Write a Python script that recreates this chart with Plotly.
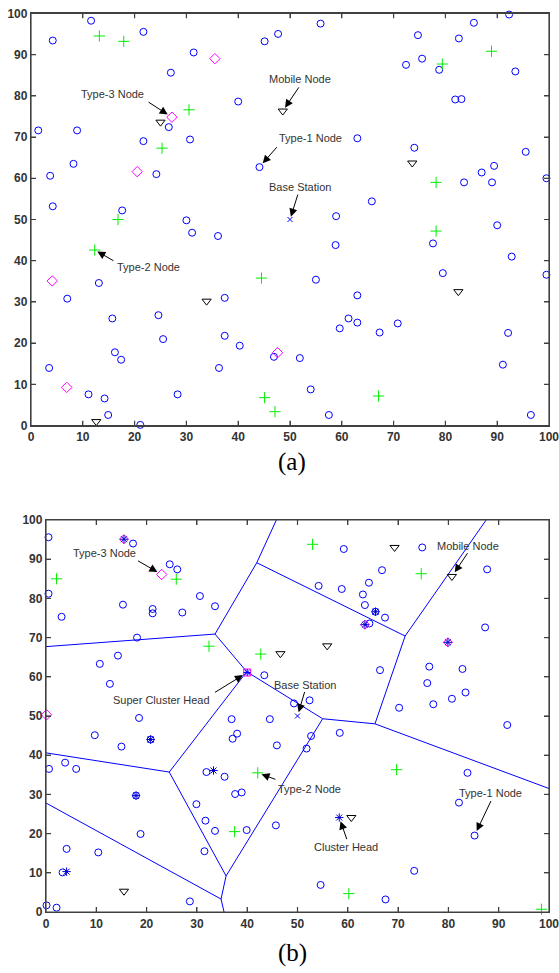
import plotly.graph_objects as go

# ---------------- Panel (a) data ----------------
a_t1_x = [11.6, 4.2, 21.7, 31.4, 27.0, 40.0, 1.4, 8.9, 21.7, 26.6, 30.7, 8.2, 3.7, 24.2, 44.1, 4.2, 17.6, 30.0, 45.1, 47.7,
          55.9, 74.7, 82.6, 85.5, 92.3, 72.4, 75.5, 78.8, 93.5, 81.9, 83.1, 63.0, 74.0, 95.5, 89.4, 87.0, 83.6, 89.0, 99.5, 65.8, 58.9, 90.0,
          31.1, 36.1, 13.1, 7.0, 37.4, 15.7, 24.6, 25.5, 37.4, 40.3, 16.2, 17.4, 3.5, 36.3, 46.9, 11.1, 14.2, 14.9, 21.1, 28.3,
          58.8, 77.6, 92.8, 99.5, 79.5, 55.0, 63.0, 61.3, 63.0, 59.6, 67.3, 70.8, 92.1, 51.9, 91.1, 54.0, 57.5, 96.5]
a_t1_y = [98.2, 93.4, 95.5, 90.5, 85.6, 78.6, 71.6, 71.6, 69.0, 72.4, 69.4, 63.5, 60.6, 61.0, 62.7, 53.2, 52.2, 49.8, 93.2, 95.0,
          97.5, 94.7, 93.9, 97.7, 99.7, 87.5, 89.0, 86.3, 85.9, 79.1, 79.2, 69.7, 67.4, 66.4, 63.0, 61.4, 59.0, 59.0, 60.0, 54.4, 50.8, 48.6,
          46.8, 46.0, 34.6, 30.8, 31.0, 26.0, 26.8, 21.0, 21.8, 19.4, 17.8, 16.0, 14.0, 14.0, 16.7, 7.6, 6.6, 2.6, 0.2, 7.6,
          43.8, 44.2, 41.0, 36.6, 37.0, 35.4, 31.6, 26.0, 25.0, 23.6, 22.6, 24.8, 22.5, 16.4, 14.8, 8.8, 2.6, 2.6]
a_t2_x = [13.2, 17.9, 30.5, 25.3, 16.8, 88.9, 79.4, 78.2, 12.3, 44.5, 45.1, 47.1, 78.2, 67.1]
a_t2_y = [94.5, 93.2, 76.6, 67.3, 50.0, 90.8, 87.7, 59.0, 42.6, 35.8, 6.8, 3.4, 47.2, 7.2]
a_t3_x = [35.5, 27.2, 20.5, 4.1, 6.9, 47.6]
a_t3_y = [89.0, 74.8, 61.6, 35.1, 9.3, 17.7]
a_mob_x = [25.0, 48.6, 73.6, 33.9, 12.6, 82.5]
a_mob_y = [73.6, 76.3, 63.7, 30.2, 1.0, 32.5]
bs_x = [50.0]
bs_y = [50.0]

# ---------------- Panel (b) data ----------------
b_t1_x = [0.5, 17.3, 24.6, 26.1, 0.5, 3.1, 15.3, 21.2, 21.2, 27.1, 30.6, 33.6, 18.1, 14.3, 10.7, 12.7, 43.4,
          59.2, 74.8, 66.8, 87.7, 54.2, 58.8, 64.2, 63.0, 63.4, 67.4, 64.3, 87.3, 66.4, 76.2, 82.8, 75.8, 83.4, 80.7, 77.0, 70.2, 52.4, 49.3,
          18.5, 36.9, 44.5, 9.7, 15.0, 37.1, 38.0, 45.9, 0.6, 3.8, 6.0, 31.9, 35.5, 37.6, 38.9, 29.9, 31.7, 33.6, 39.9, 45.7, 18.8,
          4.1, 10.4, 31.5, 3.3, 0.1, 2.1, 28.6,
          91.7, 58.4, 52.7, 51.8, 83.8, 82.1, 85.2, 73.2, 54.6, 67.5]
b_t1_y = [95.6, 94.0, 88.7, 87.4, 81.2, 75.3, 78.4, 77.3, 76.2, 76.4, 80.6, 78.0, 70.0, 65.4, 63.3, 58.2, 60.4,
          92.6, 93.0, 87.2, 87.4, 83.2, 82.4, 84.0, 81.0, 78.3, 75.1, 73.6, 72.6, 61.7, 62.6, 62.0, 58.4, 56.0, 54.4, 53.0, 52.1, 54.0, 53.2,
          49.5, 49.2, 49.2, 45.1, 42.2, 44.2, 45.5, 42.5, 36.5, 38.1, 36.5, 35.7, 34.5, 30.1, 30.5, 27.5, 23.3, 20.7, 20.9, 22.1, 19.9,
          16.1, 15.2, 15.5, 10.1, 1.7, 1.1, 2.7,
          47.7, 45.7, 44.9, 41.7, 35.5, 27.9, 19.5, 10.5, 6.9, 3.2]
b_t2_x = [2.1, 25.9, 32.4, 42.7, 53.0, 74.6, 42.1, 37.5, 69.7, 60.2, 98.5]
b_t2_y = [85.0, 84.9, 67.8, 65.8, 93.8, 86.3, 35.5, 20.5, 36.3, 4.7, 0.7]
b_t3_x = [23.0, 0.1]
b_t3_y = [86.1, 50.3]
b_ch_t3_x = [15.5, 63.4, 79.9]
b_ch_t3_y = [95.1, 73.3, 68.8]
b_ch_t1_x = [20.8, 17.9, 65.5]
b_ch_t1_y = [44.0, 29.7, 76.6]
b_ch_x = [33.3, 4.1, 58.3]
b_ch_y = [36.1, 10.3, 24.1]
b_sch_x = [40.0]
b_sch_y = [61.1]
b_mob_x = [46.6, 69.3, 80.7, 55.9, 15.5, 60.7]
b_mob_y = [65.9, 93.0, 85.6, 67.9, 5.3, 24.1]

# Voronoi edges (start, end) in data units
vor_x0 = [0.0, 33.6, 41.9, 41.9, 71.4, 71.4, 65.4, 65.4, 55.0, 33.6, 39.9, 24.5, 24.5, 35.8, 34.8, 34.8, 35.8]
vor_y0 = [67.7, 70.9, 89.1, 89.1, 70.4, 70.4, 48.0, 48.0, 49.3, 70.9, 61.3, 35.7, 35.7, 9.2, 3.3, 3.3, 9.2]
vor_x1 = [33.6, 41.9, 45.8, 71.4, 87.5, 65.4, 100.0, 55.0, 39.9, 39.9, 24.5, 0.0, 35.8, 34.8, 35.4, 0.0, 55.0]
vor_y1 = [70.9, 89.1, 100.0, 70.4, 100.0, 48.0, 31.5, 49.3, 61.3, 61.3, 35.7, 40.6, 9.2, 3.3, 0.0, 27.8, 49.3]

ticks = [0, 10, 20, 30, 40, 50, 60, 70, 80, 90, 100]
tick_text = [str(t) for t in ticks]

W, H = 559, 973
BLUE = "#0000ff"
GREEN = "#00ee00"
MAG = "#ff00ff"
AXC = "#404040"

# panel geometry in pixels (left, right, top, bottom)
PANELS = {"": (31, 549, 13.3, 425.7), "2": (46, 549, 520, 912)}

fig = go.Figure()


def mk(x, y, sym, color, size, xa, ya, lw=1.0):
    fig.add_trace(go.Scatter(x=x, y=y, mode="markers", xaxis=xa, yaxis=ya,
                             cliponaxis=False, showlegend=False, hoverinfo="skip",
                             marker=dict(symbol=sym, size=size, color=color,
                                         line=dict(color=color, width=lw))))


# panel (a)
mk(a_t1_x, a_t1_y, "circle-open", BLUE, 7, "x", "y")
mk(a_t2_x, a_t2_y, "cross-thin-open", GREEN, 8, "x", "y")
mk(a_t3_x, a_t3_y, "diamond-open", MAG, 8, "x", "y")
mk(a_mob_x, a_mob_y, "triangle-down-open", "#000000", 8, "x", "y")
mk(bs_x, bs_y, "x-thin-open", BLUE, 5, "x", "y")

# panel (b) voronoi
vx, vy = [], []
for i in range(len(vor_x0)):
    vx += [vor_x0[i], vor_x1[i], None]
    vy += [vor_y0[i], vor_y1[i], None]
fig.add_trace(go.Scatter(x=vx, y=vy, mode="lines", xaxis="x2", yaxis="y2",
                         line=dict(color=BLUE, width=1), showlegend=False, hoverinfo="skip"))

mk(b_t1_x, b_t1_y, "circle-open", BLUE, 7, "x2", "y2")
mk(b_ch_t1_x, b_ch_t1_y, "circle-open", BLUE, 7, "x2", "y2")
mk(b_t2_x, b_t2_y, "cross-thin-open", GREEN, 8, "x2", "y2")
mk(b_t3_x, b_t3_y, "diamond-open", MAG, 8, "x2", "y2")
mk(b_ch_t3_x, b_ch_t3_y, "diamond-open", MAG, 7, "x2", "y2")
mk(b_sch_x, b_sch_y, "square-open", MAG, 7, "x2", "y2")
mk(b_ch_t1_x + b_ch_t3_x + b_ch_x, b_ch_t1_y + b_ch_t3_y + b_ch_y, "asterisk-open", "#0000cc", 7, "x2", "y2")
mk(b_sch_x, b_sch_y, "asterisk-open", BLUE, 6, "x2", "y2")
mk(b_mob_x, b_mob_y, "triangle-down-open", "#000000", 8, "x2", "y2")
mk(bs_x, bs_y, "x-thin-open", BLUE, 5, "x2", "y2")

axis_common = dict(range=[0, 100], tickmode="array", tickvals=ticks, ticktext=tick_text,
                   ticks="inside", ticklen=5, tickwidth=1.3, tickcolor=AXC, showline=True,
                   linecolor=AXC, linewidth=1.3, mirror="allticks", showgrid=False,
                   zeroline=False, fixedrange=True, automargin=False, layer="above traces",
                   ticklabeloverflow="allow",
                   tickfont=dict(family="Liberation Sans, Arial", size=12, color="#333333", weight="bold"))

fig.update_layout(
    width=W, height=H, margin=dict(l=0, r=0, t=0, b=0, autoexpand=False),
    paper_bgcolor="white", plot_bgcolor="white",
    xaxis=dict(axis_common, domain=[PANELS[""][0] / W, PANELS[""][1] / W], anchor="y"),
    yaxis=dict(axis_common, domain=[1 - PANELS[""][3] / H, 1 - PANELS[""][2] / H], anchor="x"),
    xaxis2=dict(axis_common, domain=[PANELS["2"][0] / W, PANELS["2"][1] / W], anchor="y2"),
    yaxis2=dict(axis_common, domain=[1 - PANELS["2"][3] / H, 1 - PANELS["2"][2] / H], anchor="x2"),
)

# box and tick marks around each panel
TL = 5.0
for s, (l, r, t, b) in PANELS.items():
    fw, fh = TL / (r - l), TL / (b - t)
    fig.add_shape(type="rect", xref="x" + s + " domain", yref="y" + s + " domain",
                  x0=0, x1=1, y0=0, y1=1, line=dict(color=AXC, width=1.2), layer="above")
    for tv in ticks[1:-1]:
        for y0, y1 in [(0, fh), (1, 1 - fh)]:
            fig.add_shape(type="line", xref="x" + s, yref="y" + s + " domain",
                          x0=tv, x1=tv, y0=y0, y1=y1, line=dict(color=AXC, width=1.2), layer="above")
        for x0, x1 in [(0, fw), (1, 1 - fw)]:
            fig.add_shape(type="line", xref="x" + s + " domain", yref="y" + s,
                          x0=x0, x1=x1, y0=tv, y1=tv, line=dict(color=AXC, width=1.2), layer="above")

# labels: (text, text_x, text_y, tail_x, tail_y, head_x, head_y, standoff, axis suffix)
labels = [
    ("Type-3 Node", 15.8, 80.4, 22.4, 78.7, 27.2, 74.8, 5, ""),
    ("Mobile Node", 51.9, 84.1, 51.9, 82.4, 48.6, 76.3, 4, ""),
    ("Type-1 Node", 53.9, 69.7, 47.7, 67.9, 44.1, 62.7, 5, ""),
    ("Base Station", 51.9, 57.8, 51.6, 56.4, 50.0, 50.0, 3, ""),
    ("Type-2 Node", 22.6, 38.4, 16.2, 39.8, 12.3, 42.6, 3, ""),
    ("Type-3 Node", 11.6, 91.7, 18.0, 89.8, 23.0, 86.1, 5, "2"),
    ("Super Cluster Head", 23.0, 54.1, 33.3, 55.8, 40.0, 61.1, 5, "2"),
    ("Base Station", 51.5, 57.8, 51.5, 56.5, 50.0, 50.0, 4, "2"),
    ("Mobile Node", 83.8, 93.4, 84.0, 91.9, 80.7, 85.6, 5, "2"),
    ("Type-2 Node", 52.3, 31.4, 45.9, 33.7, 42.1, 35.5, 4, "2"),
    ("Cluster Head", 59.6, 16.7, 59.9, 18.2, 58.3, 24.1, 4, "2"),
    ("Type-1 Node", 88.4, 30.3, 88.6, 28.7, 85.2, 19.5, 5, "2"),
]
for txt, tx, ty, ax, ay, hx, hy, so, s in labels:
    fig.add_annotation(x=tx, y=ty, xref="x" + s, yref="y" + s, text=txt, showarrow=False,
                       font=dict(family="Liberation Sans, Arial", size=11, color="#333333"))
    fig.add_annotation(x=hx, y=hy, xref="x" + s, yref="y" + s, ax=ax, ay=ay,
                       axref="x" + s, ayref="y" + s, text="", showarrow=True,
                       arrowhead=2, arrowsize=1.6, arrowwidth=1, arrowcolor="#000000",
                       standoff=so)

for txt, yy in [("(a)", 462), ("(b)", 953)]:
    fig.add_annotation(x=292 / W, y=1 - yy / H, xref="paper", yref="paper", text=txt,
                       showarrow=False, xanchor="center", yanchor="middle",
                       font=dict(family="Liberation Serif, DejaVu Serif", size=25, color="#000000"))

fig.write_html("out.html", config={"displayModeBar": False},
               post_script="document.body.style.margin='0';document.body.style.overflow='hidden';")
